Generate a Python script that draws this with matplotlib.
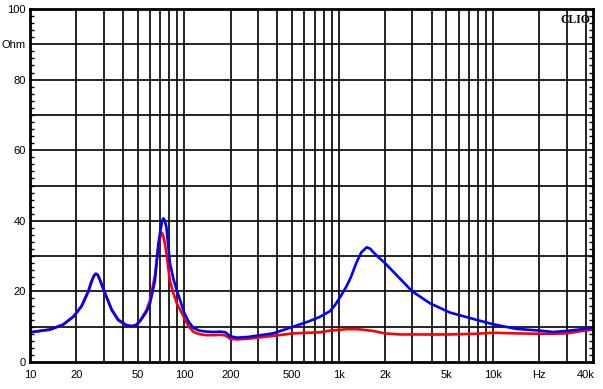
import numpy as np
import matplotlib
matplotlib.use('Agg')
import matplotlib.pyplot as plt
from matplotlib.ticker import FixedLocator, NullFormatter

# impedance readings (Hz, Ohm)
freq = [10, 13.5, 16.4, 19.1, 21.6, 23.9, 25.1, 25.9, 26.7, 27.5, 28.4, 29.5,
        30.6, 33.8, 37.3, 42.3, 45.6, 48.5, 51.7, 57, 60, 64.5, 68, 70.5, 71.7,
        73, 74.5, 76.5, 78.5, 80.7, 85, 89.3, 100, 107, 115, 125, 139, 155, 171,
        185, 198, 219, 260, 376, 508, 640, 757, 880, 950, 1020, 1120, 1200, 1300,
        1400, 1520, 1600, 1670, 1800, 2000, 2500, 3000, 3920, 5270, 7900,
        10000, 14100, 20000, 24600, 30000, 38000, 44500]
blue = [8.4, 9.2, 10.6, 12.8, 15.8, 20.0, 22.8, 24.3, 25.0, 24.7, 23.3, 21.4,
        19.6, 14.9, 12.0, 10.4, 10.2, 10.4, 11.6, 14.3, 16.7, 23.0, 33.7, 38.0, 39.8,
        40.7, 40.2, 38.3, 33.5, 28.0, 23.5, 20.4, 13.9, 11.3, 9.6, 8.9, 8.6, 8.5, 8.6,
        8.4, 7.3, 6.9, 7.1, 8.1, 10.0, 11.5, 12.8, 14.4, 16.2, 18.3, 21.3, 24.0, 28.0,
        31.0, 32.5, 32.1, 31.2, 29.8, 28.0, 23.6, 20.0, 16.6, 14.0, 11.9,
        10.7, 9.4, 8.9, 8.5, 8.8, 9.3, 9.7]
red = [8.4, 9.2, 10.6, 12.9, 15.9, 20.2, 23.0, 24.4, 25.0, 24.6, 23.2, 21.2,
       19.4, 14.7, 11.8, 10.3, 10.1, 10.4, 11.7, 14.8, 17.5, 24.5, 33.0, 36.2, 36.6,
       35.8, 34.0, 31.0, 27.0, 23.0, 19.5, 16.7, 12.5, 10.0, 8.5, 7.9, 7.6, 7.6, 7.7,
       7.5, 6.6, 6.4, 6.6, 7.4, 8.1, 8.3, 8.4, 8.9, 9.0, 9.1, 9.3, 9.3, 9.3,
       9.2, 9.0, 8.9, 8.8, 8.5, 8.1, 7.8, 7.8, 7.8, 7.8, 8.0,
       8.3, 8.1, 8.0, 8.0, 8.1, 8.8, 9.2]

xtick_pos = [10, 20, 50, 100, 200, 500, 1000, 2000, 5000, 10000, 20000, 40000]
xtick_lab = ['10', '20', '50', '100', '200', '500', '1k', '2k', '5k', '10k', 'Hz', '40k']
ytick_pos = [0, 20, 40, 60, 80, 90, 100]
ytick_lab = ['0', '20', '40', '60', '80', 'Ohm', '100']

plt.rcParams['font.family'] = ['Liberation Sans', 'DejaVu Sans']

fig = plt.figure(figsize=(6.03, 3.89), dpi=100)
ax = fig.add_axes([30/603, 1-362/389, 563/603, 353/389])

ax.set_xscale('log')
ax.set_xlim(10, 44500)
ax.set_ylim(0, 100)

# log grid: 1..9 per decade, and every 10 Ohm
vgrid = [m * 10**d for d in range(1, 5) for m in range(1, 10) if m * 10**d < 44500]
for v in vgrid[1:]:
    ax.axvline(v, color='black', lw=1.2, zorder=1)
for h in range(10, 100, 10):
    ax.axhline(h, color='black', lw=1.2, zorder=1)

ax.plot(freq, red, color='#ff0000', lw=1.9, zorder=3)
ax.plot(freq, blue, color='#0000ff', lw=1.9, zorder=4)

ax.xaxis.set_major_locator(FixedLocator(xtick_pos))
ax.set_xticklabels(xtick_lab)
ax.xaxis.set_minor_formatter(NullFormatter())
ax.tick_params(axis='x', which='both', length=0, labelsize=8, pad=6)

ax.set_yticks(ytick_pos)
ax.set_yticklabels(ytick_lab)
ax.set_yticks(np.arange(0, 101, 2), minor=True)
ax.tick_params(axis='y', which='major', length=0, labelsize=8, pad=3)
ax.tick_params(axis='y', which='minor', direction='in', length=3, width=1,
               left=True, right=True)

for s in ax.spines.values():
    s.set_linewidth(2)
    s.set_zorder(5)

ax.text(0.995, 0.985, 'CLIO', transform=ax.transAxes, ha='right', va='top',
        fontsize=8.5, fontweight='bold', family='Liberation Serif', zorder=6)

plt.savefig('out.png', dpi=100)
